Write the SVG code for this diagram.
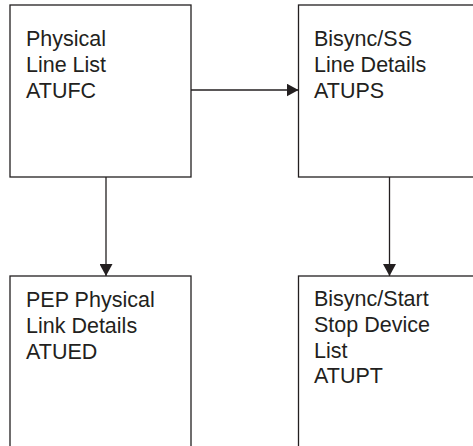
<svg xmlns="http://www.w3.org/2000/svg" width="473" height="446" viewBox="0 0 473 446">
<style>
.box{fill:#fff;stroke:#231f20;stroke-width:1.3}
.conn{fill:none;stroke:#231f20;stroke-width:1.3}
text{font-family:"Liberation Sans",Arial,sans-serif;font-size:21.5px;fill:#231f20}
</style>
<defs>
<marker id="arr" viewBox="0 0 12 13" refX="12" refY="6.5" markerWidth="12" markerHeight="13" markerUnits="userSpaceOnUse" orient="auto">
<path d="M0,0 L12,6.5 L0,13 Z" fill="#231f20"/>
</marker>
</defs>
<rect width="473" height="446" fill="#fff"/>
<g id="atufc">
<rect class="box" x="10" y="5" width="181" height="172"/>
<text x="26" y="46">Physical</text>
<text x="26" y="72">Line List</text>
<text x="26" y="98">ATUFC</text>
</g>
<g id="atups">
<rect class="box" x="298.5" y="5" width="190" height="172"/>
<text x="314" y="46">Bisync/SS</text>
<text x="314" y="72">Line Details</text>
<text x="314" y="98">ATUPS</text>
</g>
<g id="atued">
<rect class="box" x="10" y="276" width="181" height="190"/>
<text x="26" y="307">PEP Physical</text>
<text x="26" y="333">Link Details</text>
<text x="26" y="359">ATUED</text>
</g>
<g id="atupt">
<rect class="box" x="298.5" y="276" width="190" height="190"/>
<text x="314" y="306">Bisync/Start</text>
<text x="314" y="332">Stop Device</text>
<text x="314" y="357.5">List</text>
<text x="314" y="383">ATUPT</text>
</g>
<g id="connectors">
<line class="conn" x1="191" y1="90" x2="298.5" y2="90" marker-end="url(#arr)"/>
<line class="conn" x1="106" y1="177" x2="106" y2="276" marker-end="url(#arr)"/>
<line class="conn" x1="389.5" y1="177" x2="389.5" y2="276" marker-end="url(#arr)"/>
</g>
</svg>
